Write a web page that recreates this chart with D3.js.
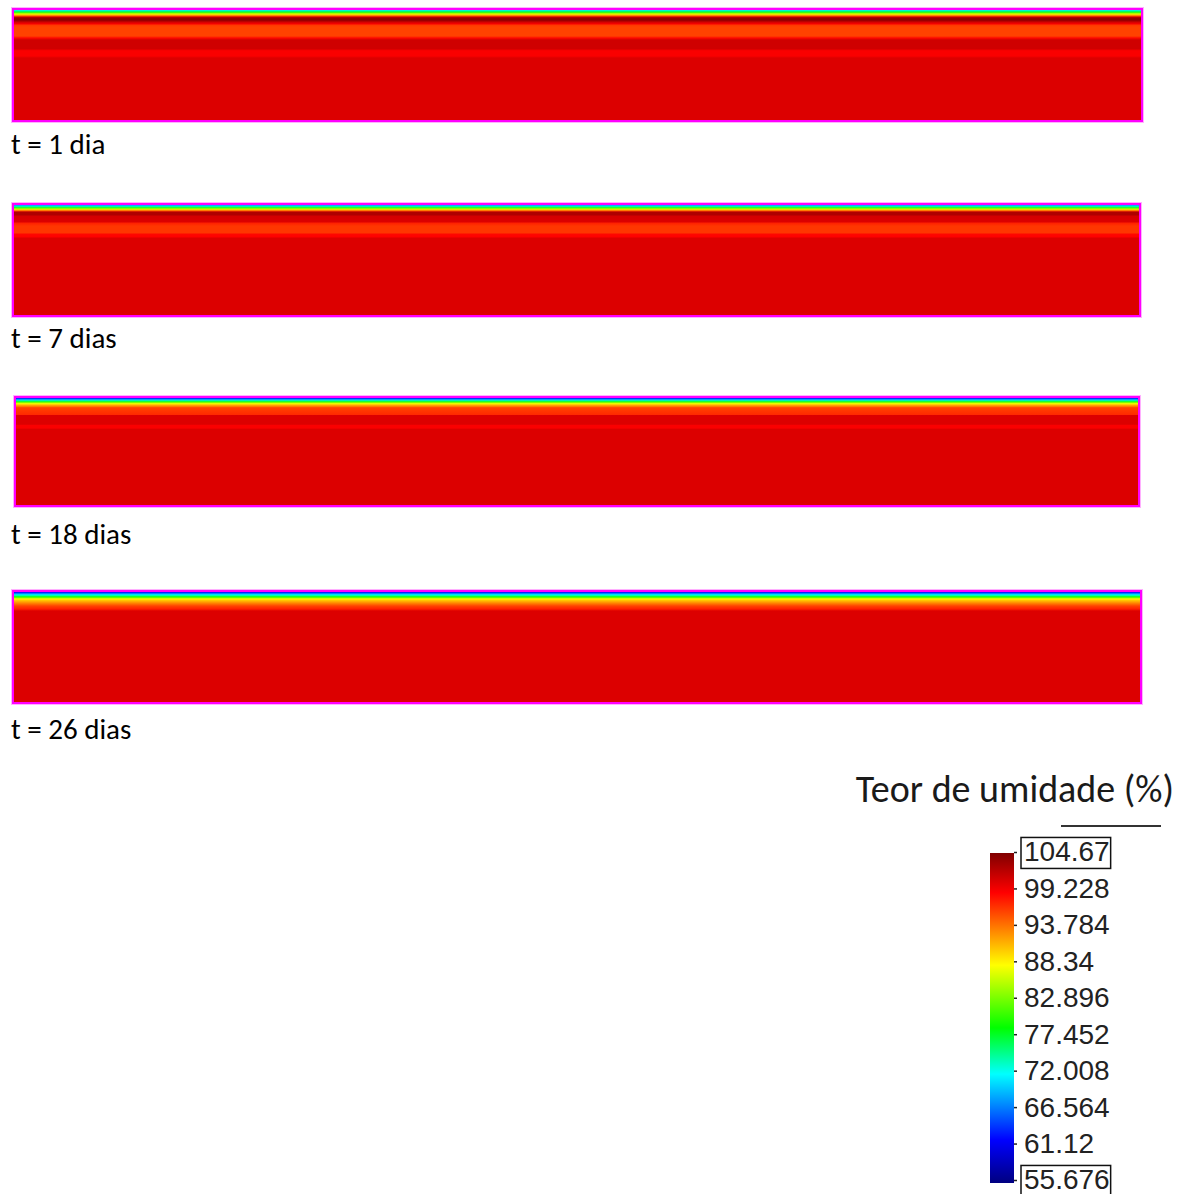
<!DOCTYPE html>
<html>
<head>
<meta charset="utf-8">
<script src="https://cdn.jsdelivr.net/npm/d3@7"></script>
<style>
  html, body { margin: 0; padding: 0; background: #fff; }
  svg { display: block; }
</style>
</head>
<body>
<svg id="chart" width="1179" height="1194"></svg>
<script>
// Moisture content (%) through the depth of the specimen, one profile per time step.
// depth: relative depth from the exposed (top) face, 0 = surface, 110 = base.
const times = ["t = 1 dia", "t = 7 dias", "t = 18 dias", "t = 26 dias"];

const depth1 = [0, 1, 2, 3, 4, 5, 6, 7, 8, 10, 11, 12, 14, 15, 17, 26, 28, 30, 39, 40, 41, 46, 48, 110];
const moisture1 = [71, 74, 78, 83, 87, 91, 95, 101, 103.5, 104, 103, 101, 99, 96.5, 96, 96, 98.5, 101, 101, 99.5, 99, 99, 100.4, 100.4];

const depth2 = [0, 1, 2, 3, 4, 5, 6, 7, 10, 11, 17, 18, 21, 28, 29, 32, 33, 110];
const moisture2 = [67, 71, 76, 81, 86, 91, 96, 102.5, 102.5, 100.8, 100.4, 97.5, 96.5, 96.5, 98.5, 98.8, 100.4, 100.4];

const depth3 = [0, 1, 2, 3, 4, 5, 6, 7, 9, 10, 17, 18, 27, 28, 31, 32, 110];
const moisture3 = [62, 66, 70, 75, 80, 85, 88, 91, 94, 96, 97, 100.4, 100.4, 99, 99, 100.4, 100.4];

const depth4 = [0, 1, 2, 3, 4, 5, 6, 7, 8, 10, 12, 14, 17, 19, 110];
const moisture4 = [62, 65, 69, 72, 76, 80, 84, 88, 90, 92, 94, 96, 97.5, 100.4, 100.4];

// Colour legend
const legendTitle = "Teor de umidade (%)";
const legendMin = 55.676;
const legendMax = 104.67;
const legendTicks = [104.67, 99.228, 93.784, 88.34, 82.896, 77.452, 72.008, 66.564, 61.12, 55.676];

const profiles = [
  { label: times[0], depth: depth1, value: moisture1 },
  { label: times[1], depth: depth2, value: moisture2 },
  { label: times[2], depth: depth3, value: moisture3 },
  { label: times[3], depth: depth4, value: moisture4 }
];

// Panel frames (outer box) and label baselines
const frames = [
  { x0: 12, x1: 1143, y0: 8,   y1: 122, ly: 154 },
  { x0: 12, x1: 1141, y0: 203, y1: 317, ly: 348 },
  { x0: 14, x1: 1140, y0: 396, y1: 507, ly: 544 },
  { x0: 12, x1: 1142, y0: 590, y1: 704, ly: 739 }
];

const svg = d3.select("#chart");
const defs = svg.append("defs");

// Rainbow colour map (navy → blue → cyan → green → yellow → red → dark red) over the legend range
const span = legendMax - legendMin;
const rainbowPos = [0, 0.13, 0.33, 0.47, 0.66, 0.88, 1];
const rainbowCol = ["#000080", "#0000ff", "#00ffff", "#00ff00", "#ffff00", "#ff0000", "#800000"];
const colour = d3.scaleLinear()
  .domain(rainbowPos.map(t => legendMin + t * span))
  .range(rainbowCol)
  .interpolate(d3.interpolateRgb)
  .clamp(true);

const border = 2;

profiles.forEach((p, i) => {
  const f = frames[i];
  const top = f.y0 + border, bottom = f.y1 - border;
  const y = d3.scaleLinear().domain([0, d3.max(p.depth)]).range([top, bottom]);

  const gid = "grad" + i;
  const grad = defs.append("linearGradient")
    .attr("id", gid)
    .attr("gradientUnits", "userSpaceOnUse")
    .attr("x1", 0).attr("x2", 0)
    .attr("y1", top).attr("y2", bottom);
  grad.selectAll("stop")
    .data(p.depth.map((d, k) => ({ d, v: p.value[k] })))
    .join("stop")
    .attr("offset", s => (y(s.d) - top) / (bottom - top))
    .attr("stop-color", s => colour(s.v));

  const g = svg.append("g");
  g.append("rect")
    .attr("x", f.x0).attr("y", f.y0)
    .attr("width", f.x1 - f.x0).attr("height", f.y1 - f.y0)
    .attr("fill", `url(#${gid})`);
  // soft outer edge + magenta outline
  g.append("rect")
    .attr("x", f.x0 - 0.5).attr("y", f.y0 - 0.5)
    .attr("width", f.x1 - f.x0 + 1).attr("height", f.y1 - f.y0 + 1)
    .attr("fill", "none").attr("stroke", "#ffb0ff").attr("stroke-width", 1);
  g.append("rect")
    .attr("x", f.x0 + 1).attr("y", f.y0 + 1)
    .attr("width", f.x1 - f.x0 - 2).attr("height", f.y1 - f.y0 - 2)
    .attr("fill", "none").attr("stroke", "#ff00ff").attr("stroke-width", 2);

  svg.append("text")
    .attr("x", 11).attr("y", f.ly)
    .attr("font-family", "Carlito, Calibri, 'Open Sans', sans-serif")
    .attr("font-size", 29)
    .attr("fill", "#000")
    .text(p.label);
});

// ---- Legend ----
const bar = { x: 990, w: 24, top: 853, bottom: 1183 };
const ly = d3.scaleLinear().domain([legendMin, legendMax]).range([1180, 852]);

svg.append("text")
  .attr("x", 1174).attr("y", 802)
  .attr("text-anchor", "end")
  .attr("font-family", "Carlito, Calibri, 'Open Sans', sans-serif")
  .attr("font-size", 38)
  .attr("fill", "#1a1a1a")
  .text(legendTitle);

svg.append("line")
  .attr("x1", 1061).attr("x2", 1161)
  .attr("y1", 826).attr("y2", 826)
  .attr("stroke", "#333").attr("stroke-width", 2);

const barGrad = defs.append("linearGradient")
  .attr("id", "barGrad")
  .attr("x1", 0).attr("x2", 0).attr("y1", 1).attr("y2", 0);
barGrad.selectAll("stop")
  .data(colour.domain())
  .join("stop")
  .attr("offset", v => (v - legendMin) / span)
  .attr("stop-color", v => colour(v));

svg.append("rect")
  .attr("x", bar.x).attr("y", bar.top)
  .attr("width", bar.w).attr("height", bar.bottom - bar.top)
  .attr("fill", "url(#barGrad)");

const axis = d3.axisRight(ly)
  .tickValues(legendTicks)
  .tickSize(3)
  .tickPadding(7)
  .tickFormat(d => String(d));

const ax = svg.append("g")
  .attr("transform", `translate(${bar.x + bar.w},0)`)
  .call(axis);
ax.select(".domain").remove();
ax.selectAll(".tick line").attr("stroke", "#222").attr("stroke-width", 1.5);
ax.selectAll(".tick text")
  .attr("font-family", "'Liberation Sans', Arial, sans-serif")
  .attr("font-size", 28)
  .attr("fill", "#222");

// boxed extreme values
ax.selectAll(".tick")
  .filter(d => d === legendMax || d === legendMin)
  .each(function () {
    const t = d3.select(this).select("text");
    const b = t.node().getBBox();
    d3.select(this).append("rect")
      .attr("x", b.x - 3).attr("y", b.y + 1)
      .attr("width", b.width + 4).attr("height", b.height)
      .attr("fill", "none").attr("stroke", "#111").attr("stroke-width", 1.5);
  });
</script>
</body>
</html>
